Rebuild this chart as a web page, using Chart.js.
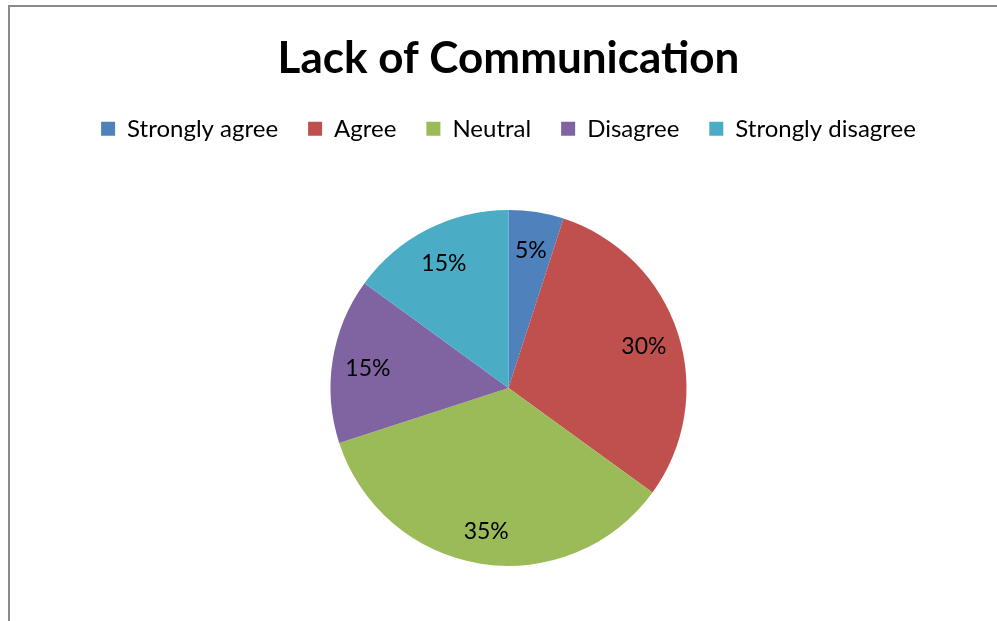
<!DOCTYPE html>
<html>
<head>
<meta charset="utf-8">
<title>Lack of Communication</title>
<script src="https://cdn.jsdelivr.net/npm/chart.js@4.4.0/dist/chart.umd.min.js"></script>
<style>
  html, body { margin: 0; padding: 0; background: #fff; overflow: hidden; }
  #frame {
    position: absolute; left: 8px; top: 5px; width: 1200px; height: 1000px;
    border-left: 2px solid #8a8a8a; border-top: 2px solid #8a8a8a;
  }
  #wrap { position: absolute; left: 0; top: 0; width: 997px; height: 621px; }
</style>
</head>
<body>
<div id="frame"></div>
<div id="wrap"><canvas id="pieChart"></canvas></div>
<script>
var labels = ['Strongly agree', 'Agree', 'Neutral', 'Disagree', 'Strongly disagree'];
var shares = [5, 30, 35, 15, 15];
var colors = ['#4F81BD', '#C0504D', '#9BBB59', '#8064A2', '#4BACC6'];

var FONT = 'Lato, "Open Sans", sans-serif';

// percent labels inside each slice
var sliceLabels = {
    id: 'sliceLabels',
    afterDatasetsDraw: function (chart) {
        var ctx = chart.ctx;
        var meta = chart.getDatasetMeta(0);
        ctx.save();
        ctx.font = '23px ' + FONT;
        ctx.fillStyle = '#000';
        ctx.textAlign = 'center';
        ctx.textBaseline = 'middle';
        meta.data.forEach(function (arc, i) {
            var p = arc.getProps(['x', 'y', 'startAngle', 'endAngle', 'outerRadius'], true);
            var mid = (p.startAngle + p.endAngle) / 2;
            var r = p.outerRadius * 0.8;
            ctx.fillText(shares[i] + '%', p.x + Math.cos(mid) * r, p.y + Math.sin(mid) * r + 3);
        });
        ctx.restore();
    }
};

// a bit more room between the legend and the pie
var legendGap = {
    id: 'legendGap',
    beforeInit: function (chart) {
        var fit = chart.legend.fit;
        chart.legend.fit = function () {
            fit.call(this);
            this.height += 4;
        };
    }
};

var ctx = document.getElementById('pieChart').getContext('2d');
var pieChart = new Chart(ctx, {
    type: 'pie',
    data: {
        labels: labels,
        datasets: [{
            data: shares,
            backgroundColor: colors,
            borderWidth: 0,
            radius: 178
        }]
    },
    options: {
        responsive: true,
        maintainAspectRatio: false,
        animation: false,
        layout: { padding: { left: 20, right: 0, top: 0, bottom: 0 } },
        plugins: {
            title: {
                display: true,
                text: 'Lack of Communication',
                color: '#000',
                font: { family: FONT, size: 44, weight: 'bold' },
                padding: { top: 32, bottom: 2 }
            },
            legend: {
                position: 'top',
                labels: {
                    color: '#000',
                    font: { family: FONT, size: 24 },
                    boxWidth: 14,
                    boxHeight: 14,
                    padding: 30
                }
            },
            tooltip: { enabled: false }
        }
    },
    plugins: [sliceLabels, legendGap]
});
</script>
</body>
</html>
